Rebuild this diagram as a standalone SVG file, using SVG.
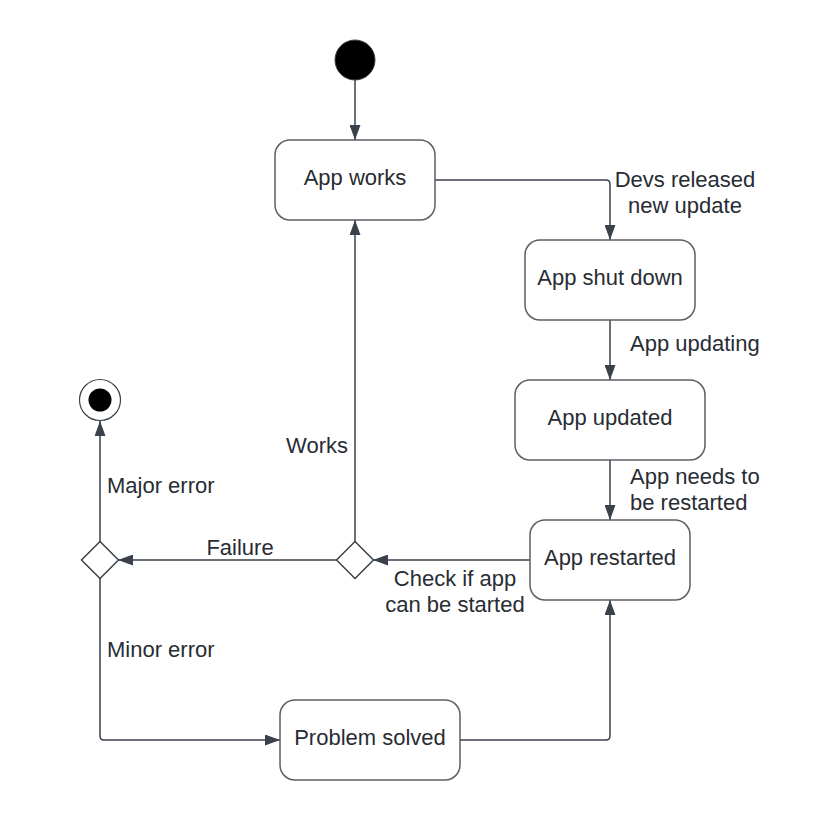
<svg xmlns="http://www.w3.org/2000/svg" width="835" height="820" viewBox="0 0 835 820">
<defs>
<marker id="arr" viewBox="0 0 15 11" refX="15" refY="5.5" markerWidth="15" markerHeight="11" markerUnits="userSpaceOnUse" orient="auto">
<path d="M0,0 L15,5.5 L0,11 Z" fill="#3a414a"/>
</marker>
<style>
.box{fill:#ffffff;stroke:#5c5f66;stroke-width:1.5}
.dia{fill:#ffffff;stroke:#3a414a;stroke-width:1.5}
.ln{fill:none;stroke:#3a414a;stroke-width:1.5;marker-end:url(#arr)}
.ln2{fill:none;stroke:#5c5f66;stroke-width:1.5}
text{font-family:"Liberation Sans",Arial,sans-serif;font-size:22px;fill:#282c33}
.c{text-anchor:middle}
.r{text-anchor:end}
</style>
</defs>
<rect width="835" height="820" fill="#ffffff"/>
<g id="connectors">
<path class="ln" d="M355,80 L355,140"/>
<path class="ln" d="M435,180 L606,180 Q610,180 610,184 L610,240"/>
<path class="ln" d="M610,320 L610,380"/>
<path class="ln" d="M610,460 L610,520"/>
<path class="ln" d="M530,560 L373,560"/>
<path class="ln" d="M355,542 L355,220"/>
<path class="ln" d="M337,560 L118,560"/>
<path class="ln" d="M100,542 L100,421"/>
<path class="ln" d="M100,578 L100,736 Q100,740 104,740 L280,740"/>
<path class="ln" d="M460,740 L606,740 Q610,740 610,736 L610,600"/>
</g>
<g id="start"><circle cx="355" cy="60" r="20" fill="#000000" stroke="#3a414a" stroke-width="1"/></g>
<g id="app-works"><rect class="box" x="275" y="140" width="160" height="80" rx="15"/><text class="c" x="355" y="185">App works</text></g>
<g id="app-shut-down"><rect class="box" x="525" y="240" width="170" height="80" rx="15"/><text class="c" x="610" y="285">App shut down</text></g>
<g id="app-updated"><rect class="box" x="515" y="380" width="190" height="80" rx="15"/><text class="c" x="610" y="425">App updated</text></g>
<g id="app-restarted"><rect class="box" x="530" y="520" width="160" height="80" rx="15"/><text class="c" x="610" y="565">App restarted</text></g>
<g id="problem-solved"><rect class="box" x="280" y="700" width="180" height="80" rx="15"/><text class="c" x="370" y="745">Problem solved</text></g>
<g id="decision-check"><path class="dia" d="M355,541.5 L373.5,560 L355,578.5 L336.5,560 Z"/></g>
<g id="decision-error"><path class="dia" d="M100,541.5 L118.5,560 L100,578.5 L81.5,560 Z"/></g>
<g id="end"><circle cx="100" cy="400" r="20.5" fill="#ffffff" stroke="#3a414a" stroke-width="1.2"/><circle cx="100" cy="400" r="11.5" fill="#000000"/></g>
<g id="labels">
<text class="c" x="685" y="187">Devs released</text>
<text class="c" x="685" y="213">new update</text>
<text x="630" y="351">App updating</text>
<text x="630" y="484">App needs to</text>
<text x="630" y="510">be restarted</text>
<text class="c" x="455" y="586">Check if app</text>
<text class="c" x="455" y="612">can be started</text>
<text class="r" x="348" y="453">Works</text>
<text x="107" y="493">Major error</text>
<text class="c" x="240" y="555">Failure</text>
<text x="107" y="657">Minor error</text>
</g>
</svg>
